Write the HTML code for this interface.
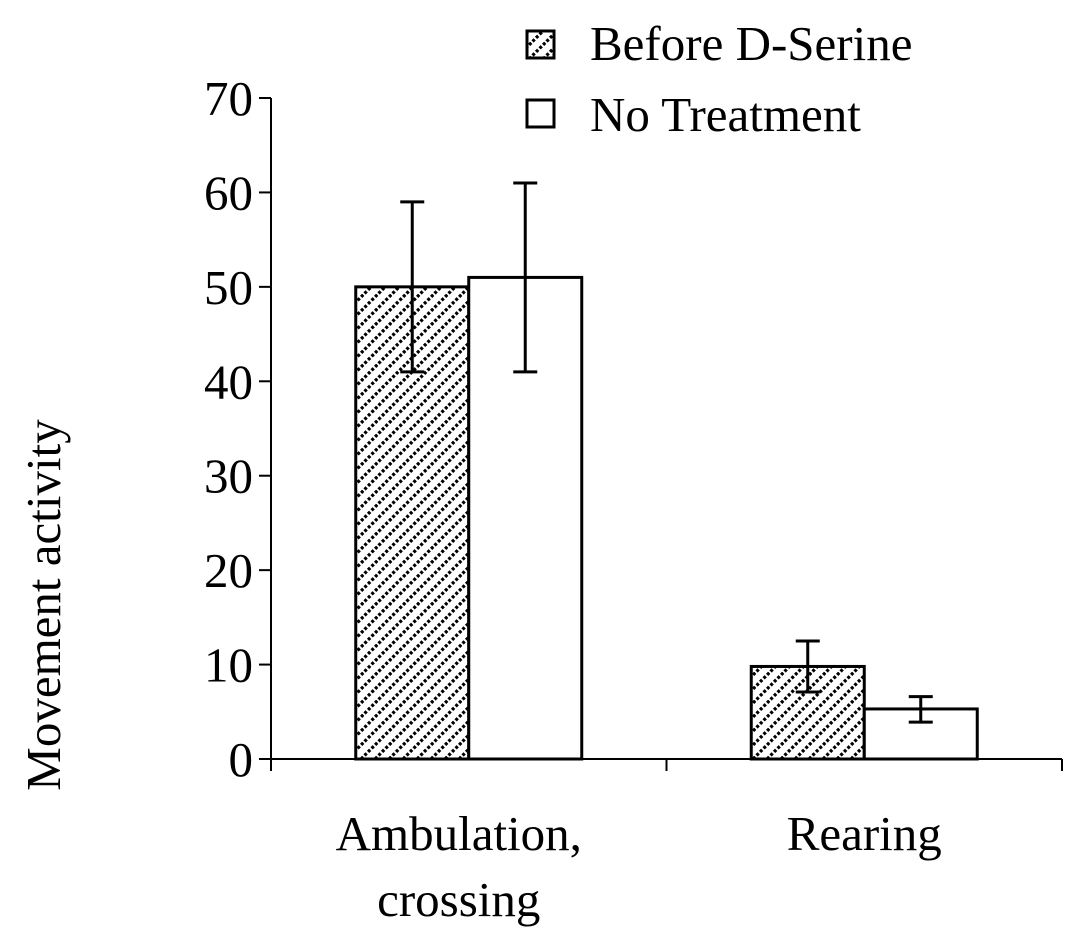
<!DOCTYPE html>
<html><head><meta charset="utf-8"><style>
body{margin:0;background:#fff}
svg text{font-family:"Liberation Serif",serif;fill:#000}
</style></head><body>
<svg id="chart" width="1069" height="947" viewBox="0 0 1069 947">
<defs>
<pattern id="hatch" width="14" height="14" patternUnits="userSpaceOnUse">
<rect width="14" height="14" fill="#fff"/>
<path d="M-3,17 L17,-3 M-3,3 L3,-3 M11,17 L17,11" stroke="#000" stroke-width="3.2" stroke-dasharray="3 2"/>
</pattern>
</defs>
<g id="axes"></g>
<g id="bars"></g>
<text x="-605" y="60" transform="rotate(-90)" text-anchor="middle" font-size="49">Movement activity</text>
<g>
<rect x="527" y="31" width="27" height="27" fill="url(#hatch)" stroke="#000" stroke-width="3"/>
<text x="590" y="60" font-size="49">Before D-Serine</text>
<rect x="527" y="100" width="27" height="27" fill="#fff" stroke="#000" stroke-width="3"/>
<text x="590" y="131" font-size="49">No Treatment</text>
</g>
</svg>
<script>
const categories=["Ambulation,|crossing","Rearing"];
const beforeValues=[50,9.8];
const beforeLow=[41,7.1];
const beforeHigh=[59,12.5];
const noTreatValues=[51,5.3];
const noTreatLow=[41,3.9];
const noTreatHigh=[61,6.6];
const yTicks=[0,10,20,30,40,50,60,70];
const NS="http://www.w3.org/2000/svg";
const x0=271,x1=1062,y0=759,yTop=98,yMax=70;
const y=v=>y0-(v/yMax)*(y0-yTop);
const groupW=(x1-x0)/categories.length;
const barW=113;
function mk(tag,attrs,parent){const e=document.createElementNS(NS,tag);for(const k in attrs)e.setAttribute(k,attrs[k]);parent.appendChild(e);return e;}
const axes=document.getElementById('axes'),bars=document.getElementById('bars');
let l=mk('line',{x1:x0,y1:yTop,x2:x0,y2:y0,stroke:'#000','stroke-width':2},axes);


l=mk('line',{x1:x0,y1:y0,x2:x1,y2:y0,stroke:'#000','stroke-width':2},axes);


yTicks.forEach(t=>{
 const tk=mk('line',{x1:x0-12,y1:y(t),x2:x0,y2:y(t),stroke:'#000','stroke-width':2},axes);
 
 
 const tx=mk('text',{x:x0-18,y:y(t)+17,'text-anchor':'end','font-size':49},axes);
 tx.textContent=t;
 
 
});
for(let i=0;i<=categories.length;i++){
 const tk=mk('line',{x1:x0+i*groupW,y1:y0,x2:x0+i*groupW,y2:y0+12,stroke:'#000','stroke-width':2},axes);
 
 
}
function bar(xl,v,lo,hi,fill,name){
 const r=mk('rect',{x:xl,y:y(v),width:barW,height:y0-y(v),fill:fill,stroke:'#000','stroke-width':3},bars);
 
 
 const cx=xl+barW/2;
 const g=mk('path',{d:`M${cx},${y(hi)}V${y(lo)}M${cx-12},${y(hi)}H${cx+12}M${cx-12},${y(lo)}H${cx+12}`,stroke:'#000','stroke-width':3,fill:'none'},bars);
 
 
}
categories.forEach((c,i)=>{
 const cx=x0+groupW*(i+0.5);
 bar(cx-barW,beforeValues[i],beforeLow[i],beforeHigh[i],'url(#hatch)','bar-before-'+i);
 bar(cx,noTreatValues[i],noTreatLow[i],noTreatHigh[i],'#fff','bar-no-treatment-'+i);
 c.split('|').forEach((line,j)=>{
  const t=mk('text',{x:cx-10*(1-i),y:850+j*66,'text-anchor':'middle','font-size':49},axes);
  t.textContent=line;
  
  
 });
});
</script>
</body></html>
